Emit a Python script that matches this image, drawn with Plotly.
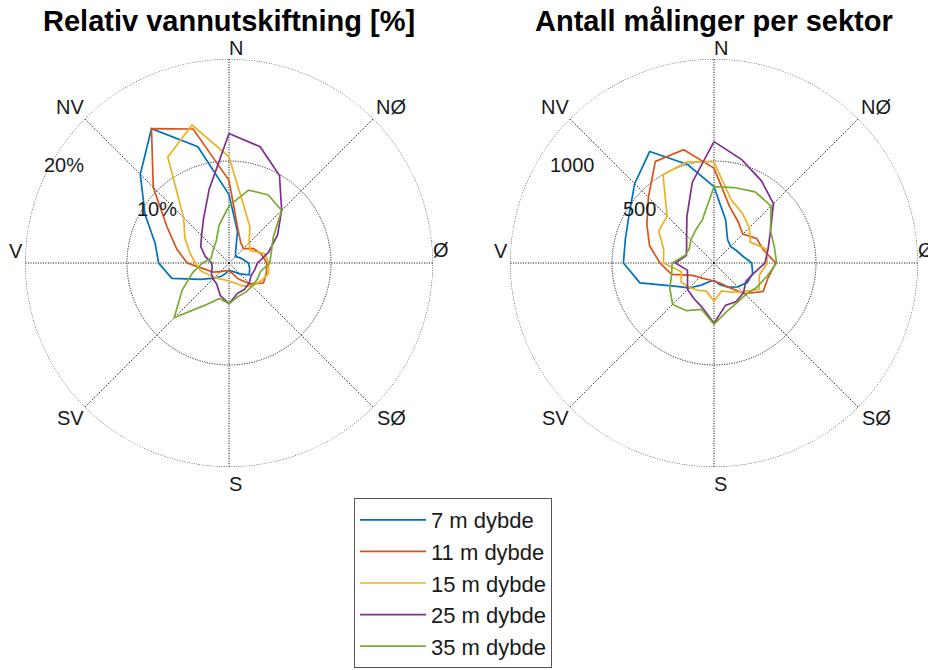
import plotly.graph_objects as go

# Compass bearings of the 24 sectors (degrees clockwise from north)
bearings = list(range(0, 360, 15))

depth_labels = ["7 m dybde", "11 m dybde", "15 m dybde", "25 m dybde", "35 m dybde"]
depth_colors = ["#0072BD", "#D95319", "#EDB120", "#7E2F8E", "#77AC30"]

# Relative water exchange per sector [%]
exch_7m = [6.7, 3.2, 1.3, 0.9, 1.1, 1.4, 1.9, 2.1, 2.3, 1.5, 1.0, 0.8,
           0.7, 1.0, 1.5, 2.1, 3.2, 5.8, 6.9, 7.5, 9.5, 12.3, 15.2, 11.8]
exch_11m = [8.1, 3.4, 2.3, 2.0, 2.8, 3.3, 3.7, 3.8, 3.9, 2.9, 1.8, 1.0,
            0.8, 0.8, 0.9, 1.2, 1.8, 2.4, 4.1, 5.3, 7.0, 10.5, 15.2, 13.6]
exch_15m = [10.4, 5.7, 4.1, 2.8, 2.4, 3.6, 3.9, 4.0, 3.6, 3.2, 2.6, 2.0,
            1.8, 1.7, 1.8, 2.0, 2.3, 2.9, 3.3, 4.0, 5.0, 6.3, 12.0, 14.0]
exch_25m = [12.7, 11.8, 9.9, 7.3, 5.5, 4.0, 2.8, 2.6, 2.5, 2.8, 3.0, 3.1,
            4.0, 3.3, 2.4, 2.2, 2.0, 1.7, 1.7, 2.4, 3.2, 3.8, 5.0, 7.5]
exch_35m = [5.6, 7.4, 7.7, 7.3, 5.0, 4.3, 4.0, 3.2, 3.2, 3.2, 3.3, 3.4,
            4.0, 3.6, 4.8, 7.6, 5.3, 3.7, 2.6, 1.8, 1.9, 2.1, 2.5, 3.8]

# Number of measurements per sector
count_7m = [374, 220, 133, 115, 125, 142, 185, 196, 190, 165, 137, 110,
            85, 95, 125, 173, 226, 376, 444, 450, 480, 550, 631, 500]
count_11m = [465, 290, 235, 200, 241, 250, 303, 275, 278, 213, 135, 100,
             90, 85, 90, 100, 122, 215, 265, 327, 380, 455, 575, 575]
count_15m = [495, 322, 280, 245, 205, 265, 262, 230, 255, 200, 165, 142,
             188, 143, 155, 170, 186, 166, 248, 255, 313, 325, 500, 513]
count_25m = [595, 525, 465, 412, 320, 275, 250, 200, 180, 205, 218, 215,
             296, 225, 200, 183, 150, 135, 190, 140, 155, 190, 265, 410]
count_35m = [374, 383, 403, 395, 320, 306, 307, 266, 240, 220, 225, 245,
             300, 236, 270, 287, 250, 215, 205, 146, 140, 160, 183, 220]

exchange = [exch_7m, exch_11m, exch_15m, exch_25m, exch_35m]
counts = [count_7m, count_11m, count_15m, count_25m, count_35m]

compass_labels = ["N", "NØ", "Ø", "SØ", "S", "SV", "V", "NV"]
exch_ticks = [10, 20]
exch_ticklabels = ["10%", "20%"]
count_ticks = [500, 1000]
count_ticklabels = ["500", "1000"]

titles = ["Relativ vannutskiftning [%]", "Antall målinger per sektor"]

# Page geometry (px)
W, H = 928, 670
CY = 263
CX_LEFT, CX_RIGHT = 229, 714
RAD = 204

FONT = "Liberation Sans, Arial, Helvetica, sans-serif"
GRID = "#141414"
DOT = "1.1px,1.4px"


def px(x):
    return x / W


def py(y):
    return 1 - y / H


def polar_axes(cx, rmax, ticks):
    return dict(
        domain=dict(x=[px(cx - RAD), px(cx + RAD)], y=[py(CY + RAD), py(CY - RAD)]),
        bgcolor="rgba(0,0,0,0)",
        radialaxis=dict(range=[0, rmax], tickvals=ticks, showticklabels=False,
                        ticks="", showline=False, showgrid=True,
                        gridcolor=GRID, griddash=DOT, gridwidth=1),
        angularaxis=dict(rotation=90, direction="clockwise",
                         tickvals=list(range(0, 360, 45)), showticklabels=False,
                         ticks="", showline=False, showgrid=True,
                         gridcolor=GRID, griddash=DOT, gridwidth=1),
    )


fig = go.Figure()

# Dotted outer ring of each rose
ring_theta = list(range(0, 361, 2))
for sub, rmax in (("polar", exch_ticks[-1]), ("polar2", count_ticks[-1])):
    fig.add_trace(go.Scatterpolar(
        r=[rmax] * len(ring_theta), theta=ring_theta, mode="lines",
        line=dict(color=GRID, width=1, dash=DOT), hoverinfo="skip",
        showlegend=False, subplot=sub))

closed_theta = bearings + bearings[:1]
for i, (lab, col) in enumerate(zip(depth_labels, depth_colors)):
    fig.add_trace(go.Scatterpolar(
        r=exchange[i] + exchange[i][:1], theta=closed_theta, mode="lines",
        line=dict(color=col, width=1.7), name=lab, legendgroup=lab,
        showlegend=True, subplot="polar"))
    fig.add_trace(go.Scatterpolar(
        r=counts[i] + counts[i][:1], theta=closed_theta, mode="lines",
        line=dict(color=col, width=1.7), name=lab, legendgroup=lab,
        showlegend=False, subplot="polar2"))

annotations = []

# Compass direction labels just outside each rose
label_offsets = [(7, -215), (162, -156), (212, -13), (162, 155),
                 (6, 221), (-159, 155), (-213, -12), (-159, -156)]
for cx in (CX_LEFT, CX_RIGHT):
    for text, (dx, dy) in zip(compass_labels, label_offsets):
        annotations.append(dict(
            x=px(cx + dx), y=py(CY + dy), xref="paper", yref="paper",
            text=text, showarrow=False, xanchor="center", yanchor="middle",
            font=dict(family=FONT, size=20, color="#1a1a1a")))

# Radial scale labels
for text, (dx, dy) in zip(exch_ticklabels, [(-72, -54), (-165, -98)]):
    annotations.append(dict(
        x=px(CX_LEFT + dx), y=py(CY + dy), xref="paper", yref="paper",
        text=text, showarrow=False, xanchor="center", yanchor="middle",
        font=dict(family=FONT, size=20, color="#1a1a1a")))
for text, (dx, dy) in zip(count_ticklabels, [(-75, -54), (-142, -98)]):
    annotations.append(dict(
        x=px(CX_RIGHT + dx), y=py(CY + dy), xref="paper", yref="paper",
        text=text, showarrow=False, xanchor="center", yanchor="middle",
        font=dict(family=FONT, size=20, color="#1a1a1a")))

# Subplot titles
for cx, t in zip((CX_LEFT, CX_RIGHT), titles):
    annotations.append(dict(
        x=px(cx), y=py(21), xref="paper", yref="paper", text="<b>" + t + "</b>",
        showarrow=False, xanchor="center", yanchor="middle",
        font=dict(family=FONT, size=29, color="#000000")))

fig.update_layout(
    width=W, height=H,
    margin=dict(l=0, r=0, t=0, b=0, autoexpand=False),
    paper_bgcolor="white", plot_bgcolor="white",
    polar=polar_axes(CX_LEFT, exch_ticks[-1], exch_ticks),
    polar2=polar_axes(CX_RIGHT, count_ticks[-1], count_ticks),
    annotations=annotations,
    showlegend=True,
    legend=dict(
        x=px(354), y=py(668), xanchor="left", yanchor="bottom",
        bgcolor="white", bordercolor="#555555", borderwidth=1,
        font=dict(family=FONT, size=22, color="#1a1a1a"),
        traceorder="grouped", tracegroupgap=0, itemwidth=66,
    ),
)

fig.write_html("out.html")
